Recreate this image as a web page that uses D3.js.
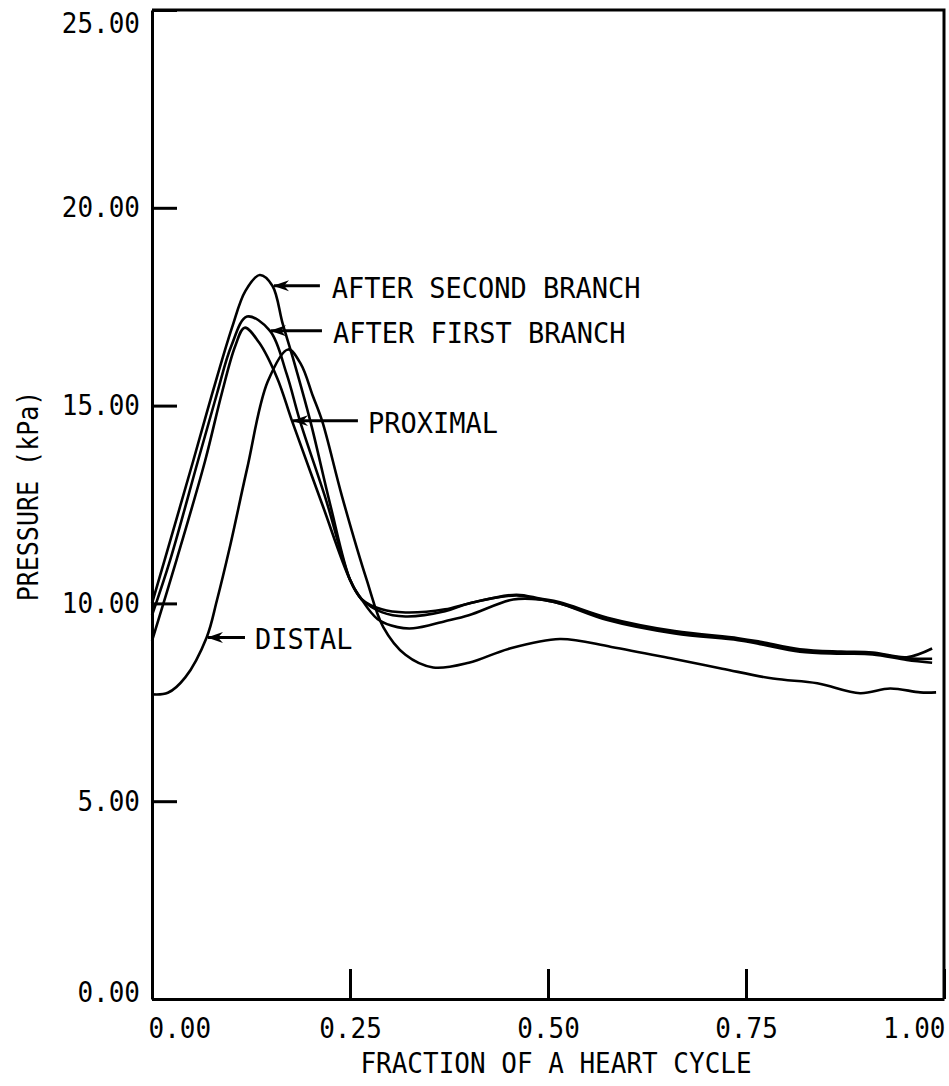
<!DOCTYPE html>
<html>
<head>
<meta charset="utf-8">
<script src="https://cdn.jsdelivr.net/npm/d3@7"></script>
<style>
  body { margin: 0; background: #fff; }
  text { font-family: "DejaVu Sans Mono", monospace; fill: #000; }
</style>
</head>
<body>
<figure id="chart" style="margin:0"></figure>
<script>
// tick labels
const xTicks = [0, 0.25, 0.5, 0.75, 1];
const yTicks = [0, 5, 10, 15, 20, 25];

// after second branch
const secondT = [0, 0.016, 0.052, 0.076, 0.101, 0.118, 0.136, 0.152, 0.165, 0.178, 0.2, 0.225, 0.25, 0.263, 0.285, 0.31, 0.33, 0.37, 0.4, 0.456, 0.49, 0.515, 0.575, 0.66, 0.74, 0.768, 0.818, 0.87, 0.91, 0.953, 0.985];
const secondP = [10.0, 11.1, 13.6, 15.3, 16.97, 17.9, 18.3, 18.03, 17.07, 16.2, 14.6, 12.5, 10.6, 10.15, 9.6, 9.4, 9.37, 9.55, 9.7, 10.1, 10.1, 10.0, 9.58, 9.24, 9.07, 8.97, 8.78, 8.73, 8.71, 8.57, 8.5];

// after first branch
const firstT = [0, 0.023, 0.058, 0.082, 0.1, 0.12, 0.149, 0.17, 0.187, 0.22, 0.25, 0.265, 0.29, 0.32, 0.37, 0.4, 0.46, 0.49, 0.515, 0.575, 0.66, 0.74, 0.768, 0.818, 0.87, 0.91, 0.953, 0.985];
const firstP = [9.7, 11.1, 13.6, 15.3, 16.5, 17.25, 16.89, 15.8, 14.6, 12.6, 10.6, 10.1, 9.78, 9.67, 9.8, 10.0, 10.2, 10.1, 10.0, 9.62, 9.27, 9.1, 9.0, 8.81, 8.76, 8.73, 8.61, 8.6];

// proximal
const proximalT = [0, 0.031, 0.067, 0.088, 0.105, 0.117, 0.135, 0.158, 0.177, 0.215, 0.25, 0.265, 0.29, 0.32, 0.37, 0.4, 0.46, 0.49, 0.515, 0.575, 0.66, 0.74, 0.768, 0.818, 0.87, 0.91, 0.953, 0.985];
const proximalP = [9.05, 11.1, 13.6, 15.3, 16.5, 16.97, 16.6, 15.7, 14.6, 12.5, 10.6, 10.1, 9.85, 9.77, 9.85, 10.0, 10.22, 10.12, 10.03, 9.64, 9.3, 9.12, 9.03, 8.84, 8.78, 8.76, 8.64, 8.86];

// distal
const distalT = [0, 0.02, 0.042, 0.069, 0.082, 0.098, 0.12, 0.146, 0.172, 0.188, 0.203, 0.215, 0.24, 0.271, 0.292, 0.32, 0.355, 0.4, 0.45, 0.515, 0.58, 0.658, 0.72, 0.784, 0.84, 0.894, 0.932, 0.97, 0.99];
const distalP = [7.7, 7.74, 8.13, 9.14, 10.08, 11.4, 13.4, 15.6, 16.42, 16.05, 15.25, 14.6, 12.7, 10.6, 9.4, 8.7, 8.38, 8.5, 8.85, 9.1, 8.9, 8.6, 8.35, 8.1, 7.98, 7.73, 7.85, 7.75, 7.75];

// annotations: arrow tip (t, p), arrow tail and label start (t)
const labelNames = ["AFTER SECOND BRANCH", "AFTER FIRST BRANCH", "PROXIMAL", "DISTAL"];
const labelTipT = [0.1528, 0.149, 0.1768, 0.0694];
const labelTipP = [18.03, 16.89, 14.62, 9.14];
const labelTailT = [0.212, 0.2146, 0.26, 0.1174];
const labelTextT = [0.227, 0.2285, 0.2727, 0.13];

const width = 949, height = 1086;
const sy = 1.12; // plotter lettering is taller than it is wide

const svg = d3.select("figure#chart")
  .append("svg")
  .attr("width", width)
  .attr("height", height);

svg.append("rect").attr("width", width).attr("height", height).attr("fill", "#fff");

const xScale = d3.scaleLinear().domain([0, 1]).range([152, 944]);
const yScale = d3.scaleLinear().domain([0, 25]).range([999, 10]);

// arrow head pointing along the line direction
svg.append("defs").append("marker")
  .attr("id", "head")
  .attr("viewBox", "0 0 16 12")
  .attr("refX", 15).attr("refY", 6)
  .attr("markerWidth", 16).attr("markerHeight", 12)
  .attr("markerUnits", "userSpaceOnUse")
  .attr("orient", "auto")
  .append("path")
  .attr("d", "M16,6 L0,0.5 L5,6 L0,11.5 Z")
  .attr("fill", "#000");

// frame (top and right)
svg.append("path")
  .attr("d", `M${xScale(0)},${yScale(25)} H${xScale(1)} V${yScale(0)}`)
  .attr("fill", "none").attr("stroke", "#000").attr("stroke-width", 3);

// y axis
const yAxis = svg.append("g")
  .attr("transform", `translate(${xScale(0)},0)`)
  .call(d3.axisLeft(yScale).tickValues(yTicks).tickSize(-25).tickSizeOuter(0)
    .tickFormat(d3.format(".2f")));

yAxis.select(".domain").attr("stroke-width", 3);
yAxis.selectAll(".tick line").attr("stroke-width", 3);
yAxis.selectAll(".tick text")
  .attr("font-size", 26)
  .attr("font-family", "DejaVu Sans Mono")
  .attr("x", -12)
  .attr("dy", 0)
  .attr("y", d => (d === 25 ? 22 : d === 0 ? 2 : 9) / sy)
  .attr("transform", `scale(1,${sy})`);

// x axis
const xAxis = svg.append("g")
  .attr("transform", `translate(0,${yScale(0)})`)
  .call(d3.axisBottom(xScale).tickValues(xTicks).tickSize(-30).tickSizeOuter(0)
    .tickFormat(d3.format(".2f")));

xAxis.select(".domain").attr("stroke-width", 3);
xAxis.selectAll(".tick line").attr("stroke-width", 3);
xAxis.selectAll(".tick text")
  .attr("font-size", 26)
  .attr("font-family", "DejaVu Sans Mono")
  .attr("dy", 0)
  .attr("y", 39 / sy)
  .attr("x", d => d === 0 ? -4 : d === 1 ? 1 : 0)
  .attr("text-anchor", d => d === 0 ? "start" : d === 1 ? "end" : "middle")
  .attr("transform", `scale(1,${sy})`);

// axis titles
svg.append("text")
  .attr("transform", `translate(${(xScale(0) + xScale(1)) / 2 + 8},1073) scale(1,${sy})`)
  .attr("text-anchor", "middle")
  .attr("font-size", 26)
  .text("FRACTION OF A HEART CYCLE");

svg.append("text")
  .attr("transform", `translate(38,496) rotate(-90) scale(1,1.16)`)
  .attr("text-anchor", "middle")
  .attr("font-size", 25)
  .text("PRESSURE (kPa)");

// curves
const line = d3.line()
  .x(d => xScale(d[0]))
  .y(d => yScale(d[1]))
  .curve(d3.curveCatmullRom.alpha(0.5));

const series = [
  [secondT, secondP],
  [firstT, firstP],
  [proximalT, proximalP],
  [distalT, distalP]
];

svg.selectAll("path.curve")
  .data(series)
  .enter()
  .append("path")
  .attr("class", "curve")
  .attr("d", s => line(d3.zip(s[0], s[1])))
  .attr("fill", "none")
  .attr("stroke", "#000")
  .attr("stroke-width", 2.6);

// labels with arrows
const ann = svg.selectAll("g.ann")
  .data(labelNames.map((n, i) => ({ n, i })))
  .enter()
  .append("g")
  .attr("class", "ann");

ann.append("line")
  .attr("x1", d => xScale(labelTailT[d.i]))
  .attr("x2", d => xScale(labelTipT[d.i]) + 1)
  .attr("y1", d => yScale(labelTipP[d.i]))
  .attr("y2", d => yScale(labelTipP[d.i]))
  .attr("stroke", "#000")
  .attr("stroke-width", 3)
  .attr("marker-end", "url(#head)");

ann.append("text")
  .attr("transform", d => `translate(${xScale(labelTextT[d.i])},${yScale(labelTipP[d.i]) + 12}) scale(1,1.08)`)
  .attr("font-size", 27)
  .text(d => d.n);
</script>
</body>
</html>
